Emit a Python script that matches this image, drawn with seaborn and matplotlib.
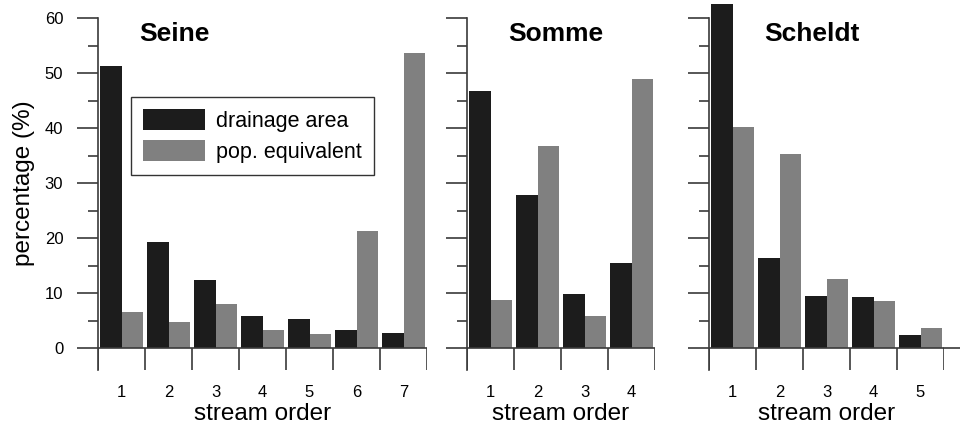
import pandas as pd
import matplotlib
matplotlib.use("Agg")
import matplotlib.pyplot as plt
import seaborn as sns
from matplotlib.patches import Patch
from matplotlib.ticker import MultipleLocator

# --- data ---
SERIES = ["drainage area", "pop. equivalent"]

SEINE_ORDERS = [1, 2, 3, 4, 5, 6, 7]
SEINE_AREA = [51.3, 19.3, 12.4, 5.9, 5.3, 3.3, 2.8]
SEINE_POP = [6.6, 4.7, 8.0, 3.3, 2.6, 21.2, 53.7]

SOMME_ORDERS = [1, 2, 3, 4]
SOMME_AREA = [46.8, 27.9, 9.9, 15.5]
SOMME_POP = [8.8, 36.7, 5.8, 49.0]

SCHELDT_ORDERS = [1, 2, 3, 4, 5]
SCHELDT_AREA = [62.5, 16.4, 9.5, 9.3, 2.4]
SCHELDT_POP = [40.1, 35.2, 12.6, 8.6, 3.7]

BLACK = "#1c1c1c"
GRAY = "#808080"
AXIS_COLOR = "#3a3a3a"
FONT = "Liberation Sans"


def to_long(orders, area, pop):
    df = pd.DataFrame({"order": orders, SERIES[0]: area, SERIES[1]: pop})
    return df.melt(id_vars="order", var_name="series", value_name="pct")


def style_axis(ax, n, show_labels):
    ax.set_xlim(-0.5, n - 0.5)
    ax.set_ylim(-4, 60)
    for side in ["top", "right", "bottom"]:
        ax.spines[side].set_visible(False)
    ax.spines["left"].set_color(AXIS_COLOR)
    ax.spines["left"].set_linewidth(1.2)
    ax.yaxis.set_major_locator(MultipleLocator(10))
    ax.yaxis.set_minor_locator(MultipleLocator(5))
    ax.tick_params(axis="y", which="major", left=True, length=15, width=1.2, color=AXIS_COLOR,
                   pad=10, labelsize=12, labelleft=show_labels, labelcolor="black")
    ax.tick_params(axis="y", which="minor", left=True, length=7, width=1.2, color=AXIS_COLOR)
    ax.tick_params(axis="x", bottom=False, length=0, pad=11, labelsize=12, labelcolor="black")
    # zero line and category separators below it
    ax.axhline(0, color=AXIS_COLOR, lw=1.2, zorder=3)
    ax.vlines([i - 0.5 for i in range(n + 1)], -4, 0, color=AXIS_COLOR, lw=1.2, zorder=3)
    ax.set_xlabel("stream order", fontsize=17.5, labelpad=2, color="black")
    ax.set_ylabel("")
    ax.grid(False)


sns.set_theme(style="white")
plt.rcParams["font.family"] = [FONT, "DejaVu Sans"]
plt.rcParams["text.color"] = "black"

fig = plt.figure(figsize=(9.6, 4.3), dpi=100)
W, H = 960, 430


def add_axes(x0, x1):
    return fig.add_axes([x0 / W, (H - 370) / H, (x1 - x0) / W, (370 - 18) / H])


panels = [
    ("Seine", SEINE_ORDERS, SEINE_AREA, SEINE_POP, add_axes(98, 427)),
    ("Somme", SOMME_ORDERS, SOMME_AREA, SOMME_POP, add_axes(467, 655)),
    ("Scheldt", SCHELDT_ORDERS, SCHELDT_AREA, SCHELDT_POP, add_axes(709, 944)),
]

for i, (name, orders, area, pop, ax) in enumerate(panels):
    df = to_long(orders, area, pop)
    sns.barplot(data=df, x="order", y="pct", hue="series", hue_order=SERIES,
                palette=[BLACK, GRAY], saturation=1, width=0.92, gap=0,
                linewidth=0, legend=False, ax=ax)
    for p in ax.patches:
        p.set_clip_on(False)
    style_axis(ax, len(orders), show_labels=(i == 0))

# titles
panels[0][4].text(0.125, 57.1, "Seine", transform=panels[0][4].get_yaxis_transform(),
                  ha="left", va="center", fontsize=19, fontweight="bold")
panels[1][4].text(0.47, 57.1, "Somme", transform=panels[1][4].get_yaxis_transform(),
                  ha="center", va="center", fontsize=19, fontweight="bold")
panels[2][4].text(0.44, 57.1, "Scheldt", transform=panels[2][4].get_yaxis_transform(),
                  ha="center", va="center", fontsize=19, fontweight="bold")

# extend zero line of the last panel a bit to the right
panels[2][4].axhline(0, xmin=1, xmax=(960 - 709) / 235, color=AXIS_COLOR, lw=1.2, clip_on=False)

# legend in first panel
ax1 = panels[0][4]
handles = [Patch(facecolor=BLACK, edgecolor="none"), Patch(facecolor=GRAY, edgecolor="none")]
leg = ax1.legend(handles, SERIES, loc="upper left", bbox_to_anchor=(0.10, 0.776),
                 borderaxespad=0, fontsize=15.5, handlelength=2.9, handleheight=1.15,
                 handletextpad=0.5, labelspacing=0.38, borderpad=0.55, fancybox=False,
                 frameon=True)
leg.get_frame().set_edgecolor("black")
leg.get_frame().set_linewidth(1.0)
for t in leg.get_texts():
    t.set_color("black")

fig.text(24 / W, 1 - 183 / H, "percentage (%)", rotation=90, ha="center", va="center",
         fontsize=17.5)

fig.savefig("out.png", dpi=100)
